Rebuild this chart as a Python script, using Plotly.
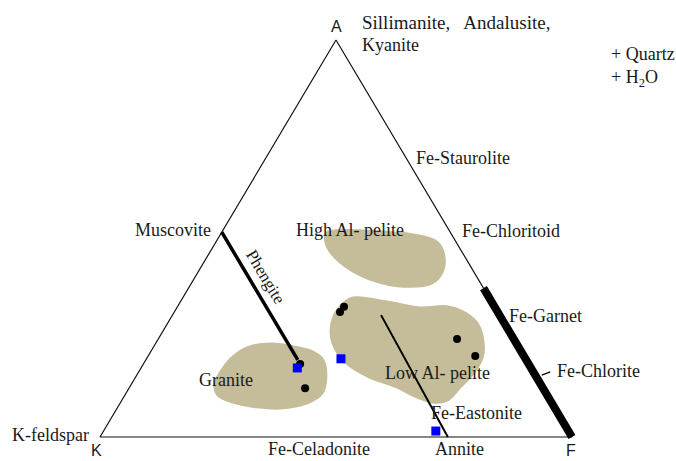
import plotly.graph_objects as go

# AKF compatibility diagram: compositions given as (A, F) fractions, K = 1 - A - F

# triangle corners
corner_A = [1.0, 0.0, 0.0, 1.0]
corner_F = [0.0, 1.0, 0.0, 0.0]

# rock-type fields (outline points)
granite_A = [0.131, 0.161, 0.202, 0.227, 0.234, 0.227, 0.214, 0.194, 0.151, 0.111, 0.086, 0.073, 0.076, 0.088, 0.106]
granite_F = [0.178, 0.174, 0.181, 0.204, 0.249, 0.296, 0.344, 0.375, 0.403, 0.415, 0.396, 0.345, 0.295, 0.238, 0.197]

high_al_A = [0.514, 0.519, 0.519, 0.514, 0.509, 0.491, 0.464, 0.421, 0.388, 0.380, 0.398, 0.428, 0.464, 0.491]
high_al_F = [0.224, 0.238, 0.298, 0.368, 0.409, 0.468, 0.495, 0.516, 0.509, 0.452, 0.373, 0.309, 0.258, 0.233]

low_al_A = [0.350, 0.340, 0.325, 0.328, 0.315, 0.287, 0.244, 0.202, 0.161, 0.126, 0.093, 0.088, 0.101, 0.126, 0.151, 0.186, 0.237, 0.287, 0.328]
low_al_F = [0.361, 0.438, 0.516, 0.571, 0.612, 0.655, 0.689, 0.709, 0.710, 0.700, 0.689, 0.661, 0.621, 0.566, 0.496, 0.430, 0.375, 0.348, 0.345]

# analysed samples
sample_A = [0.184, 0.123, 0.315, 0.328, 0.247, 0.204]
sample_F = [0.332, 0.373, 0.351, 0.353, 0.633, 0.693]

# reference compositions (blue squares)
ref_A = [0.174, 0.197, 0.015]
ref_F = [0.331, 0.412, 0.704]

# solid-solution joins
phengite_A = [0.516, 0.194]
phengite_F = [0.0, 0.322]
biotite_A = [0.307, 0.0]
biotite_F = [0.442, 0.737]
garnet_chlorite_A = [0.375, 0.0]
garnet_chlorite_F = [0.625, 1.0]
chlorite_tick_A = [0.156, 0.164]
chlorite_tick_F = [0.858, 0.872]


def to_xy(a_vals, f_vals):
    """Project AKF fractions onto the plane: K at (0,0), F at (1,0), A at (0.5,1)."""
    xs = [f + a / 2 for a, f in zip(a_vals, f_vals)]
    return xs, list(a_vals)


def closed(vals):
    return list(vals) + [vals[0]]


FIELD = "#c5bd99"
SERIF = "Liberation Serif, Times New Roman, serif"
SANS = "Liberation Sans, Arial, sans-serif"
INK = "#1a1a1a"

fig = go.Figure()

for fa, ff in [(granite_A, granite_F), (high_al_A, high_al_F), (low_al_A, low_al_F)]:
    x, y = to_xy(closed(fa), closed(ff))
    fig.add_trace(go.Scatter(x=x, y=y, mode="lines", fill="toself", fillcolor=FIELD,
                             line=dict(color=FIELD, width=3, shape="spline", smoothing=1.0),
                             hoverinfo="skip"))

# triangle frame
x, y = to_xy(corner_A, corner_F)
fig.add_trace(go.Scatter(x=x, y=y, mode="lines", line=dict(color="#111", width=1.2), hoverinfo="skip"))

for ja, jf, w in [(phengite_A, phengite_F, 3.5), (biotite_A, biotite_F, 2),
                  (garnet_chlorite_A, garnet_chlorite_F, 8), (chlorite_tick_A, chlorite_tick_F, 1.2)]:
    x, y = to_xy(ja, jf)
    fig.add_trace(go.Scatter(x=x, y=y, mode="lines", line=dict(color="black", width=w), hoverinfo="skip"))

x, y = to_xy(sample_A, sample_F)
fig.add_trace(go.Scatter(x=x, y=y, mode="markers", marker=dict(color="black", size=8, symbol="circle")))

x, y = to_xy(ref_A, ref_F)
fig.add_trace(go.Scatter(x=x, y=y, mode="markers", marker=dict(color="#0000ff", size=9, symbol="square")))

labels = [
    ("Sillimanite,   Andalusite,", 0.553, 1.045, "left", "middle", SERIF, 19),
    ("Kyanite", 0.553, 0.987, "left", "middle", SERIF, 18),
    ("+ Quartz", 1.081, 0.965, "left", "middle", SERIF, 18),
    ("+ H<sub>2</sub>O", 1.081, 0.904, "left", "middle", SERIF, 18),
    ("Fe-Staurolite", 0.668, 0.703, "left", "middle", SERIF, 18),
    ("Muscovite", 0.237, 0.521, "right", "middle", SERIF, 18),
    ("High Al- pelite", 0.413, 0.521, "left", "middle", SERIF, 18),
    ("Fe-Chloritoid", 0.765, 0.519, "left", "middle", SERIF, 18),
    ("Fe-Garnet", 0.864, 0.305, "left", "middle", SERIF, 18),
    ("Fe-Chlorite", 0.966, 0.166, "left", "middle", SERIF, 18),
    ("Granite", 0.207, 0.144, "left", "middle", SERIF, 18),
    ("Low Al- pelite", 0.602, 0.161, "left", "middle", SERIF, 18),
    ("Fe-Eastonite", 0.699, 0.061, "left", "middle", SERIF, 18),
    ("K-feldspar", -0.189, 0.005, "left", "middle", SERIF, 18),
    ("Fe-Celadonite", 0.354, -0.058, "left", "bottom", SERIF, 18),
    ("Annite", 0.708, -0.058, "left", "bottom", SERIF, 18),
    ("A", 0.500, 1.033, "center", "middle", SANS, 16),
    ("K", -0.008, -0.058, "center", "bottom", SANS, 16),
    ("F", 0.998, -0.058, "center", "bottom", SANS, 16),
]
for text, lx, ly, xanc, yanc, fam, size in labels:
    fig.add_annotation(x=lx, y=ly, text=text, showarrow=False, xanchor=xanc, yanchor=yanc,
                       borderpad=0, font=dict(family=fam, size=size, color=INK))

fig.add_annotation(x=0.352, y=0.403, text="Phengite", showarrow=False, textangle=59,
                   font=dict(family=SERIF, size=17, color=INK))

fig.update_layout(
    width=676, height=461, margin=dict(l=0, r=0, t=0, b=0),
    paper_bgcolor="white", plot_bgcolor="white", showlegend=False,
    xaxis=dict(range=[-100 / 472, 576 / 472], visible=False, fixedrange=True),
    yaxis=dict(range=[-24 / 397, 437 / 397], visible=False, fixedrange=True),
)

fig.write_html("out.html")
